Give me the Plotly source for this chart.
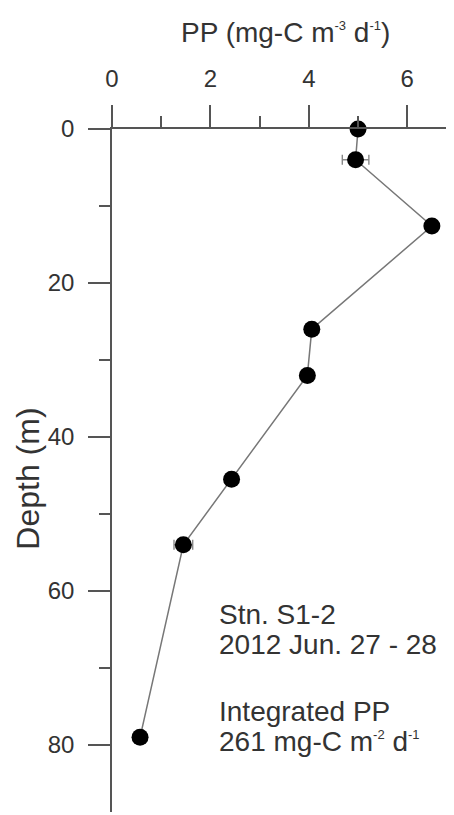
import plotly.graph_objects as go

depth = [0, 4, 12.6, 26, 32, 45.5, 54, 79]
pp = [5.0, 4.95, 6.5, 4.06, 3.97, 2.43, 1.45, 0.57]
pp_err = [0.1, 0.27, 0.1, 0.08, 0.08, 0.08, 0.19, 0.05]

x_ticks = [0, 2, 4, 6]
y_ticks = [0, 20, 40, 60, 80]


def sup(s):
    return "<sup><span style='font-size:13px'>" + s + "</span></sup>"


x_title = "PP (mg-C m" + sup("-3") + " d" + sup("-1") + ")"
y_title = "Depth (m)"
text_lines = [
    ("Stn. S1-2", 63.1),
    ("2012 Jun. 27 - 28", 66.9),
    ("Integrated PP", 75.7),
    ("261 mg-C m" + sup("-2") + " d" + sup("-1"), 79.6),
]

FONT = "Liberation Sans, Arial, sans-serif"
AX = "#555555"
TXT = "#333333"

fig = go.Figure()
fig.add_trace(go.Scatter(
    x=pp, y=depth, mode="lines+markers",
    line=dict(color="#777777", width=1.5),
    marker=dict(color="black", size=17),
    error_x=dict(type="data", array=pp_err, visible=True, color="#888888", thickness=1.4, width=5),
    cliponaxis=False, showlegend=False,
))

for t, yv in text_lines:
    fig.add_annotation(x=2.13, y=yv, xref="x", yref="y", text=t, showarrow=False,
                       xanchor="left", yanchor="middle",
                       font=dict(family=FONT, size=28, color=TXT))

fig.add_annotation(x=0.506, y=1.1406, xref="paper", yref="paper", text=x_title,
                   showarrow=False, xanchor="center", yanchor="middle",
                   font=dict(family=FONT, size=28, color=TXT))
fig.add_annotation(x=-0.2456, y=0.488, xref="paper", yref="paper", text=y_title,
                   showarrow=False, xanchor="center", yanchor="middle", textangle=-90,
                   font=dict(family=FONT, size=32, color=TXT))

fig.update_layout(
    width=446, height=807,
    margin=dict(l=104, r=0, t=121, b=3),
    paper_bgcolor="white", plot_bgcolor="white",
    font=dict(family=FONT, color=TXT),
)
fig.update_xaxes(
    side="top", range=[0, 6.95], showgrid=False, zeroline=False, automargin=False,
    showline=True, linecolor=AX, linewidth=1.5,
    tickvals=x_ticks, ticktext=[str(v) for v in x_ticks],
    ticks="outside", ticklen=22, tickwidth=1.5, tickcolor=AX,
    minor=dict(dtick=1, tick0=0, ticks="outside", ticklen=11, tickwidth=1.5, tickcolor=AX),
    tickfont=dict(size=24, color=TXT), ticklabelstandoff=9,
)
fig.update_yaxes(
    range=[88.7, 0], showgrid=False, zeroline=False, automargin=False,
    showline=True, linecolor=AX, linewidth=1.5,
    tickvals=y_ticks, ticktext=[str(v) for v in y_ticks],
    ticks="outside", ticklen=22, tickwidth=1.5, tickcolor=AX,
    minor=dict(dtick=10, tick0=0, ticks="outside", ticklen=11, tickwidth=1.5, tickcolor=AX),
    tickfont=dict(size=24, color=TXT), ticklabelstandoff=9,
)

fig.write_html("out.html")
